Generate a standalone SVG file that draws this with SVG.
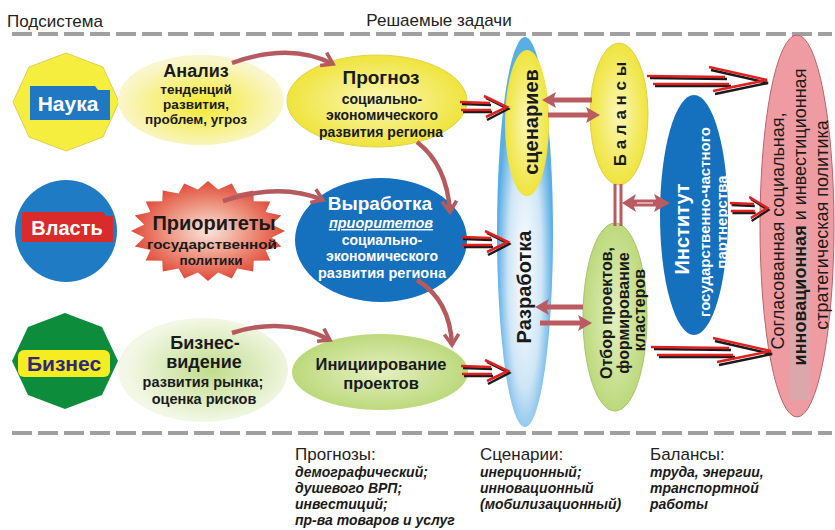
<svg xmlns="http://www.w3.org/2000/svg" width="835" height="530" viewBox="0 0 835 530">
<style>
text{font-family:"Liberation Sans","DejaVu Sans",sans-serif;fill:#1a1a1a}
.b{font-weight:bold}
.w{fill:#fff}
.c{text-anchor:middle}
.hd{font-size:17px;fill:#222}
.it{font-size:14px;font-weight:bold;font-style:italic}
.cv{fill:none;stroke:#b55a5f;stroke-width:4.5;marker-end:url(#hd)}
.blk{fill:#b95b60}
.dash{stroke:#a0a0a0;stroke-width:4;stroke-dasharray:20 6}
</style>
<defs>
<marker id="hd" viewBox="0 0 20 20" refX="15" refY="10" markerWidth="18" markerHeight="18" markerUnits="userSpaceOnUse" orient="auto"><path d="M3,2 L15,10 L3,18" fill="none" stroke="#b55a5f" stroke-width="4"/></marker>
<radialGradient id="gPaleY" cx="50%" cy="55%" r="50%"><stop offset="0" stop-color="#f3e92e"/><stop offset="1" stop-color="#faf6cc"/></radialGradient>
<radialGradient id="gY" cx="50%" cy="50%" r="50%"><stop offset="0" stop-color="#fbf7b8"/><stop offset="1" stop-color="#efe43c"/></radialGradient>
<radialGradient id="gBlue" cx="50%" cy="60%" r="50%"><stop offset="0" stop-color="#ffffff"/><stop offset="0.6" stop-color="#cfe6f6"/><stop offset="1" stop-color="#5aaee6"/></radialGradient>
<radialGradient id="gGr" cx="50%" cy="50%" r="50%"><stop offset="0" stop-color="#e4f0c0"/><stop offset="1" stop-color="#bcd97c"/></radialGradient>
<radialGradient id="gPaleG" cx="55%" cy="50%" r="50%"><stop offset="0" stop-color="#c0dc8c"/><stop offset="1" stop-color="#f3f8e6"/></radialGradient>
<radialGradient id="gRed" cx="50%" cy="50%" r="50%"><stop offset="0" stop-color="#fbe4dc"/><stop offset="0.5" stop-color="#ee9a86"/><stop offset="1" stop-color="#e04a38"/></radialGradient>
<g id="arrS">
<path d="M2,-4 L31,-3 M3,4 L32,4 M26,-10 L48,1 L27,12" fill="none" stroke="#1a1a1a" stroke-width="2.5"/>
<path d="M0,-6 L30,-5 M1,2 L31,2 M24,-12 L47,-1 L26,9" fill="none" stroke="#e02020" stroke-width="2.5"/>
</g>
<g id="arrL">
<path d="M3,-4 L80,-3 M8,4 L84,4 M64,-12 L121,1 L68,12" fill="none" stroke="#1a1a1a" stroke-width="2.5"/>
<path d="M0,-6 L78,-5 M6,2 L82,2 M62,-15 L120,-2 L66,9" fill="none" stroke="#e02020" stroke-width="2.5"/>
</g>
</defs>
<rect width="835" height="530" fill="#fff"/>

<g id="headers">
<text x="7" y="27" class="hd">Подсистема</text>
<text x="439" y="26" class="hd c">Решаемые задачи</text>
<line x1="12" y1="34" x2="832" y2="34" class="dash"/>
<line x1="12" y1="433" x2="832" y2="433" class="dash"/>
</g>

<g id="nauka">
<polygon points="66,53 103,67 119,102 103,137 66,151 29,137 13,102 29,67" fill="#f6ee3e" stroke="#ddd052" stroke-width="1"/>
<path d="M30,86 H95 L98,90 H110 V120 H30 Z" fill="#1f78c1"/>
<text x="68" y="111" class="b w c" font-size="21">Наука</text>
</g>

<g id="vlast">
<circle cx="66" cy="231" r="51" fill="#1f7bc4"/>
<path d="M22,212 H103 L106,216 H113 V242 H22 Z" fill="#d92b2b"/>
<text x="67" y="235" class="b w c" font-size="20">Власть</text>
</g>

<g id="biznes">
<polygon points="65,313 102,327 118,361 102,395 65,409 28,395 12,361 28,327" fill="#0d8c3c"/>
<rect x="18" y="350" width="92" height="27" rx="6" fill="#f5ec21"/>
<text x="64" y="371" class="b c" font-size="21" style="fill:#2d2a7a">Бизнес</text>
</g>

<g id="analiz">
<ellipse cx="201" cy="100" rx="83" ry="45" fill="url(#gPaleY)"/>
<text x="196" y="77" class="b c" font-size="18">Анализ</text>
<text x="196" y="94" class="b c" font-size="13.5">тенденций</text>
<text x="196" y="109" class="b c" font-size="13.5">развития,</text>
<text x="196" y="124" class="b c" font-size="13.5">проблем, угроз</text>
</g>

<g id="prioritety">
<polygon transform="translate(208,231) scale(0.77,0.5)" fill="url(#gRed)" points="100,0 82.97,13.14 95.11,30.9 74.84,38.14 80.9,58.78 59.4,59.4 58.78,80.9 38.14,74.84 30.9,95.11 13.14,82.97 0,100 -13.14,82.97 -30.9,95.11 -38.14,74.84 -58.78,80.9 -59.4,59.4 -80.9,58.78 -74.84,38.14 -95.11,30.9 -82.97,13.14 -100,0 -82.97,-13.14 -95.11,-30.9 -74.84,-38.14 -80.9,-58.78 -59.4,-59.4 -58.78,-80.9 -38.14,-74.84 -30.9,-95.11 -13.14,-82.97 0,-100 13.14,-82.97 30.9,-95.11 38.14,-74.84 58.78,-80.9 59.4,-59.4 80.9,-58.78 74.84,-38.14 95.11,-30.9 82.97,-13.14"/>
<text x="214" y="230" class="b c" font-size="20">Приоритеты</text>
<text x="212" y="249" class="b c" font-size="13.5" textLength="130" lengthAdjust="spacingAndGlyphs">государственной</text>
<text x="211" y="265" class="b c" font-size="13.5">политики</text>
</g>

<g id="biznes-videnie">
<ellipse cx="203" cy="370" rx="85" ry="52" fill="url(#gPaleG)"/>
<text x="205" y="349" class="b c" font-size="18">Бизнес-</text>
<text x="204" y="368" class="b c" font-size="18">видение</text>
<text x="203" y="387" class="b c" font-size="14.5">развития рынка;</text>
<text x="204" y="404" class="b c" font-size="14.5">оценка рисков</text>
</g>

<g id="prognoz">
<ellipse cx="377" cy="101" rx="90" ry="46" fill="url(#gY)" stroke="#e0d448" stroke-width="1"/>
<text x="381" y="84" class="b c" font-size="19">Прогноз</text>
<text x="382" y="104" class="b c" font-size="14">социально-</text>
<text x="382" y="120" class="b c" font-size="14">экономического</text>
<text x="381" y="137" class="b c" font-size="14" textLength="124" lengthAdjust="spacingAndGlyphs">развития региона</text>
</g>

<g id="vyrabotka">
<ellipse cx="381" cy="240" rx="86" ry="62" fill="#1570be"/>
<text x="380" y="210" class="b w c" font-size="19">Выработка</text>
<text x="381" y="228" class="w c" font-size="14.5" font-weight="bold" font-style="italic" text-decoration="underline">приоритетов</text>
<text x="382" y="245" class="b w c" font-size="14">социально-</text>
<text x="382" y="261" class="b w c" font-size="14">экономического</text>
<text x="382" y="278" class="b w c" font-size="14" textLength="128" lengthAdjust="spacingAndGlyphs">развития региона</text>
</g>

<g id="iniciirovanie">
<ellipse cx="380" cy="372" rx="88" ry="38" fill="url(#gGr)"/>
<text x="381" y="370" class="b c" font-size="16.5">Инициирование</text>
<text x="381" y="389" class="b c" font-size="16.5">проектов</text>
</g>

<g id="razrabotka">
<ellipse cx="525" cy="232" rx="28" ry="195" fill="url(#gBlue)"/>
<ellipse cx="527" cy="123" rx="22" ry="73" fill="url(#gY)"/>
<text x="531" y="122" class="b c" font-size="20" dy="0.35em" transform="rotate(-90 531 122)">сценариев</text>
<text x="524" y="287" class="b c" font-size="20" dy="0.35em" transform="rotate(-90 524 287)">Разработка</text>
</g>

<g id="balansy">
<ellipse cx="619" cy="114" rx="29" ry="71" fill="url(#gY)" stroke="#ddd052" stroke-width="1"/>
<text x="620" y="114" class="b c" font-size="17" dy="0.35em" transform="rotate(-90 620 114)">Б а л а н с ы</text>
</g>

<g id="otbor">
<ellipse cx="615" cy="317" rx="32" ry="94" fill="url(#gGr)" stroke="#a9c46e" stroke-width="1"/>
<g transform="translate(606,313) rotate(-90)"><text x="0" y="6" class="b c" font-size="16">Отбор проектов,</text></g>
<g transform="translate(623,313) rotate(-90)"><text x="0" y="6" class="b c" font-size="16">формирование</text></g>
<g transform="translate(639,310) rotate(-90)"><text x="0" y="6" class="b c" font-size="16">кластеров</text></g>
</g>

<g id="institut">
<ellipse cx="694" cy="215" rx="34" ry="120" fill="#1570be"/>
<g transform="translate(682,229) rotate(-90)"><text x="0" y="7" class="b w c" font-size="20">Институт</text></g>
<g transform="translate(705,222) rotate(-90)"><text x="0" y="5" class="b w c" font-size="15">государственно-частного</text></g>
<g transform="translate(722,222) rotate(-90)"><text x="0" y="5" class="b w c" font-size="15">партнерства</text></g>
</g>

<g id="politika">
<ellipse cx="797" cy="226" rx="37" ry="191" fill="#ee9ca2" stroke="#b8646a" stroke-width="1"/>
<rect x="790" y="228" width="20" height="172" fill="#dba7aa"/>
<g transform="translate(778,231) rotate(-90)"><text x="0" y="6" class="c" font-size="18">Согласованная социальная,</text></g>
<g transform="translate(800,217) rotate(-90)"><text x="0" y="6" class="c" font-size="18"><tspan font-weight="bold">инновационная</tspan> и инвестиционная</text></g>
<g transform="translate(822,225) rotate(-90)"><text x="0" y="6" class="c" font-size="18">стратегическая политика</text></g>
</g>

<g id="connectors">
<path class="cv" d="M232,63 Q290,42 333,64"/>
<path class="cv" d="M223,201 Q280,182 323,200"/>
<path class="cv" d="M232,333 Q285,316 330,340"/>
<path class="cv" d="M417,142 Q447,165 450,212"/>
<path class="cv" d="M417,280 Q450,300 452,345"/>
<use href="#arrS" x="460" y="108"/>
<use href="#arrS" x="461" y="243"/>
<use href="#arrS" x="461" y="372"/>
<use href="#arrL" x="647" y="82"/>
<use href="#arrL" x="651" y="353"/>
<use href="#arrS" transform="translate(730,209) scale(0.8,1)"/>
<polygon class="blk" points="542,100 556,92 554,97.5 592,97.5 592,102.5 554,102.5 556,108"/>
<polygon class="blk" points="600,115 586,107 588,112.5 548,112.5 548,117.5 588,117.5 586,123"/>
<polygon class="blk" points="535,307 549,299 547,304.5 583,304.5 583,309.5 547,309.5 549,315"/>
<polygon class="blk" points="592,323 578,315 580,320.5 540,320.5 540,325.5 580,325.5 578,331"/>
<line x1="615" y1="184" x2="615" y2="226" stroke="#b95b60" stroke-width="3"/>
<line x1="621" y1="184" x2="621" y2="226" stroke="#b95b60" stroke-width="3"/>
<polygon class="blk" points="622,203 636,194 634,199.5 656,199.5 654,194 670,203 654,212 656,206.5 634,206.5 636,212"/>
<line x1="637" y1="203" x2="653" y2="203" stroke="#e6c3c5" stroke-width="1.5"/>
</g>

<g id="legend">
<text x="295" y="460" class="hd">Прогнозы:</text>
<text x="295" y="477" class="it">демографический;</text>
<text x="295" y="493" class="it">душевого ВРП;</text>
<text x="295" y="509" class="it">инвестиций;</text>
<text x="295" y="525" class="it">пр-ва товаров и услуг</text>
<text x="480" y="460" class="hd">Сценарии:</text>
<text x="480" y="477" class="it">инерционный;</text>
<text x="480" y="493" class="it">инновационный</text>
<text x="480" y="509" class="it">(мобилизационный)</text>
<text x="650" y="460" class="hd">Балансы:</text>
<text x="650" y="477" class="it">труда, энергии,</text>
<text x="650" y="493" class="it">транспортной</text>
<text x="650" y="509" class="it">работы</text>
</g>
</svg>
